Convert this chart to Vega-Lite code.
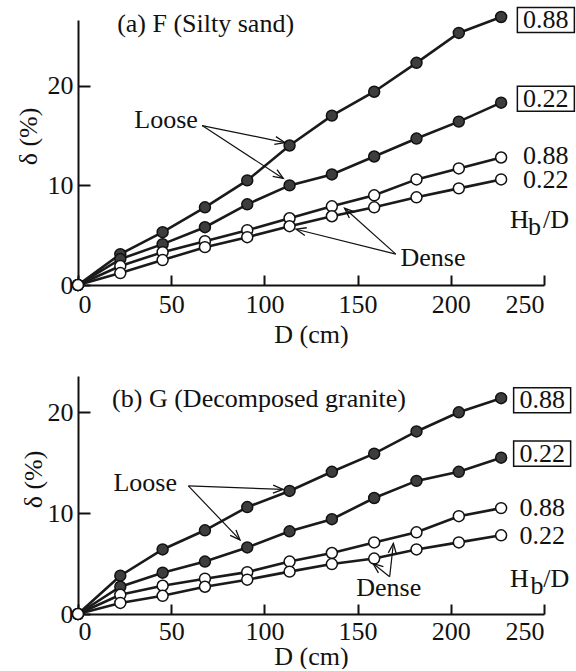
{
  "$schema": "https://vega.github.io/schema/vega-lite/v6.json",
  "padding": {"left": 15, "top": 4, "right": 0, "bottom": 0},
  "config": {
    "font": "Liberation Serif",
    "view": {"stroke": null},
    "axis": {"grid": false, "domainColor": "#111", "domainWidth": 2, "tickColor": "#111", "tickWidth": 2, "labelFont": "Liberation Serif", "labelFontSize": 26, "labelColor": "#111", "titleFont": "Liberation Serif", "titleFontSize": 26, "titleFontWeight": "normal", "titleColor": "#111"},
    "axisX": {"tickSize": -10, "labelPadding": 16, "titlePadding": 4},
    "axisY": {"tickSize": -12, "labelPadding": 17, "titlePadding": 6},
    "text": {"font": "Liberation Serif", "fontSize": 26, "color": "#111"}
  },
  "datasets": {
    "curves": [
      {"p":"a","s":"Loose 0.88","st":"Loose","D":0,"v":0},{"p":"a","s":"Loose 0.88","st":"Loose","D":22.7,"v":3.1},{"p":"a","s":"Loose 0.88","st":"Loose","D":45.4,"v":5.3},{"p":"a","s":"Loose 0.88","st":"Loose","D":68.1,"v":7.8},{"p":"a","s":"Loose 0.88","st":"Loose","D":90.8,"v":10.5},{"p":"a","s":"Loose 0.88","st":"Loose","D":113.5,"v":14.0},{"p":"a","s":"Loose 0.88","st":"Loose","D":136.2,"v":17.0},{"p":"a","s":"Loose 0.88","st":"Loose","D":158.9,"v":19.4},{"p":"a","s":"Loose 0.88","st":"Loose","D":181.6,"v":22.3},{"p":"a","s":"Loose 0.88","st":"Loose","D":204.3,"v":25.3},{"p":"a","s":"Loose 0.88","st":"Loose","D":227,"v":26.9},
      {"p":"a","s":"Loose 0.22","st":"Loose","D":0,"v":0},{"p":"a","s":"Loose 0.22","st":"Loose","D":22.7,"v":2.6},{"p":"a","s":"Loose 0.22","st":"Loose","D":45.4,"v":4.1},{"p":"a","s":"Loose 0.22","st":"Loose","D":68.1,"v":5.8},{"p":"a","s":"Loose 0.22","st":"Loose","D":90.8,"v":8.1},{"p":"a","s":"Loose 0.22","st":"Loose","D":113.5,"v":10.0},{"p":"a","s":"Loose 0.22","st":"Loose","D":136.2,"v":11.1},{"p":"a","s":"Loose 0.22","st":"Loose","D":158.9,"v":12.9},{"p":"a","s":"Loose 0.22","st":"Loose","D":181.6,"v":14.7},{"p":"a","s":"Loose 0.22","st":"Loose","D":204.3,"v":16.4},{"p":"a","s":"Loose 0.22","st":"Loose","D":227,"v":18.3},
      {"p":"a","s":"Dense 0.88","st":"Dense","D":0,"v":0},{"p":"a","s":"Dense 0.88","st":"Dense","D":22.7,"v":1.9},{"p":"a","s":"Dense 0.88","st":"Dense","D":45.4,"v":3.3},{"p":"a","s":"Dense 0.88","st":"Dense","D":68.1,"v":4.4},{"p":"a","s":"Dense 0.88","st":"Dense","D":90.8,"v":5.5},{"p":"a","s":"Dense 0.88","st":"Dense","D":113.5,"v":6.7},{"p":"a","s":"Dense 0.88","st":"Dense","D":136.2,"v":7.9},{"p":"a","s":"Dense 0.88","st":"Dense","D":158.9,"v":9.0},{"p":"a","s":"Dense 0.88","st":"Dense","D":181.6,"v":10.6},{"p":"a","s":"Dense 0.88","st":"Dense","D":204.3,"v":11.7},{"p":"a","s":"Dense 0.88","st":"Dense","D":227,"v":12.8},
      {"p":"a","s":"Dense 0.22","st":"Dense","D":0,"v":0},{"p":"a","s":"Dense 0.22","st":"Dense","D":22.7,"v":1.2},{"p":"a","s":"Dense 0.22","st":"Dense","D":45.4,"v":2.5},{"p":"a","s":"Dense 0.22","st":"Dense","D":68.1,"v":3.8},{"p":"a","s":"Dense 0.22","st":"Dense","D":90.8,"v":4.8},{"p":"a","s":"Dense 0.22","st":"Dense","D":113.5,"v":5.9},{"p":"a","s":"Dense 0.22","st":"Dense","D":136.2,"v":6.9},{"p":"a","s":"Dense 0.22","st":"Dense","D":158.9,"v":7.8},{"p":"a","s":"Dense 0.22","st":"Dense","D":181.6,"v":8.8},{"p":"a","s":"Dense 0.22","st":"Dense","D":204.3,"v":9.7},{"p":"a","s":"Dense 0.22","st":"Dense","D":227,"v":10.6},
      {"p":"b","s":"Loose 0.88","st":"Loose","D":0,"v":0},{"p":"b","s":"Loose 0.88","st":"Loose","D":22.7,"v":3.8},{"p":"b","s":"Loose 0.88","st":"Loose","D":45.4,"v":6.4},{"p":"b","s":"Loose 0.88","st":"Loose","D":68.1,"v":8.3},{"p":"b","s":"Loose 0.88","st":"Loose","D":90.8,"v":10.6},{"p":"b","s":"Loose 0.88","st":"Loose","D":113.5,"v":12.2},{"p":"b","s":"Loose 0.88","st":"Loose","D":136.2,"v":14.1},{"p":"b","s":"Loose 0.88","st":"Loose","D":158.9,"v":15.9},{"p":"b","s":"Loose 0.88","st":"Loose","D":181.6,"v":18.1},{"p":"b","s":"Loose 0.88","st":"Loose","D":204.3,"v":20.0},{"p":"b","s":"Loose 0.88","st":"Loose","D":227,"v":21.4},
      {"p":"b","s":"Loose 0.22","st":"Loose","D":0,"v":0},{"p":"b","s":"Loose 0.22","st":"Loose","D":22.7,"v":2.7},{"p":"b","s":"Loose 0.22","st":"Loose","D":45.4,"v":4.1},{"p":"b","s":"Loose 0.22","st":"Loose","D":68.1,"v":5.2},{"p":"b","s":"Loose 0.22","st":"Loose","D":90.8,"v":6.6},{"p":"b","s":"Loose 0.22","st":"Loose","D":113.5,"v":8.2},{"p":"b","s":"Loose 0.22","st":"Loose","D":136.2,"v":9.4},{"p":"b","s":"Loose 0.22","st":"Loose","D":158.9,"v":11.5},{"p":"b","s":"Loose 0.22","st":"Loose","D":181.6,"v":13.2},{"p":"b","s":"Loose 0.22","st":"Loose","D":204.3,"v":14.1},{"p":"b","s":"Loose 0.22","st":"Loose","D":227,"v":15.5},
      {"p":"b","s":"Dense 0.88","st":"Dense","D":0,"v":0},{"p":"b","s":"Dense 0.88","st":"Dense","D":22.7,"v":1.9},{"p":"b","s":"Dense 0.88","st":"Dense","D":45.4,"v":2.8},{"p":"b","s":"Dense 0.88","st":"Dense","D":68.1,"v":3.5},{"p":"b","s":"Dense 0.88","st":"Dense","D":90.8,"v":4.15},{"p":"b","s":"Dense 0.88","st":"Dense","D":113.5,"v":5.2},{"p":"b","s":"Dense 0.88","st":"Dense","D":136.2,"v":6.05},{"p":"b","s":"Dense 0.88","st":"Dense","D":158.9,"v":7.1},{"p":"b","s":"Dense 0.88","st":"Dense","D":181.6,"v":8.1},{"p":"b","s":"Dense 0.88","st":"Dense","D":204.3,"v":9.7},{"p":"b","s":"Dense 0.88","st":"Dense","D":227,"v":10.5},
      {"p":"b","s":"Dense 0.22","st":"Dense","D":0,"v":0},{"p":"b","s":"Dense 0.22","st":"Dense","D":22.7,"v":1.1},{"p":"b","s":"Dense 0.22","st":"Dense","D":45.4,"v":1.8},{"p":"b","s":"Dense 0.22","st":"Dense","D":68.1,"v":2.7},{"p":"b","s":"Dense 0.22","st":"Dense","D":90.8,"v":3.4},{"p":"b","s":"Dense 0.22","st":"Dense","D":113.5,"v":4.2},{"p":"b","s":"Dense 0.22","st":"Dense","D":136.2,"v":4.95},{"p":"b","s":"Dense 0.22","st":"Dense","D":158.9,"v":5.5},{"p":"b","s":"Dense 0.22","st":"Dense","D":181.6,"v":6.4},{"p":"b","s":"Dense 0.22","st":"Dense","D":204.3,"v":7.1},{"p":"b","s":"Dense 0.22","st":"Dense","D":227,"v":7.8}
    ],
    "notes": [
      {"p":"a","t":"(a) F (Silty sand)","D":21,"v":25.4},
      {"p":"a","t":"Loose","D":30.2,"v":15.8},
      {"p":"a","t":"Dense","D":173,"v":1.9},
      {"p":"a","t":"H","D":231.8,"v":5.72},
      {"p":"a","t":"b","D":241.4,"v":5.0},
      {"p":"a","t":"/D","D":249.5,"v":5.72},
      {"p":"b","t":"(b) G (Decomposed granite)","D":18.3,"v":20.5},
      {"p":"b","t":"Loose","D":19,"v":12.2},
      {"p":"b","t":"Dense","D":149.3,"v":1.8},
      {"p":"b","t":"H","D":231.7,"v":2.65},
      {"p":"b","t":"b","D":242.7,"v":1.95},
      {"p":"b","t":"/D","D":249.6,"v":2.65}
    ],
    "labels": [
      {"p":"a","t":"0.88","box":true,"D":251,"v":26.6},
      {"p":"a","t":"0.22","box":true,"D":251,"v":18.7},
      {"p":"a","t":"0.88","box":false,"D":251,"v":12.95},
      {"p":"a","t":"0.22","box":false,"D":251,"v":10.5},
      {"p":"b","t":"0.88","box":true,"D":249,"v":21.2},
      {"p":"b","t":"0.22","box":true,"D":249,"v":15.9},
      {"p":"b","t":"0.88","box":false,"D":249,"v":10.5},
      {"p":"b","t":"0.22","box":false,"D":249,"v":7.7}
    ],
    "arrows": [
      {"p":"a","D":66.6,"v":16.0,"D2":111,"v2":14.3},
      {"p":"a","D":66.6,"v":16.0,"D2":110.1,"v2":10.7},
      {"p":"a","D":170.5,"v":3.1,"D2":117,"v2":5.6},
      {"p":"a","D":170.5,"v":3.1,"D2":143,"v2":7.7},
      {"p":"b","D":59.2,"v":12.7,"D2":110,"v2":12.35},
      {"p":"b","D":59.2,"v":12.7,"D2":86.9,"v2":7.35},
      {"p":"b","D":167.2,"v":3.7,"D2":169.2,"v2":7.0},
      {"p":"b","D":167.2,"v":3.7,"D2":158.3,"v2":5.0}
    ]
  },
  "bounds": "full",
  "align": "none",
  "spacing": 29,
  "resolve": {"scale": {"x": "independent", "y": "independent", "fill": "independent"}},
  "vconcat": [
    {
      "width": 466, "height": 265,
      "layer": [
        {"data": {"name": "curves"}, "transform": [{"filter": "datum.p==='a'"}],
         "mark": {"type": "line", "color": "#1a1a1a", "strokeWidth": 2.6},
         "encoding": {
           "x": {"field": "D", "type": "quantitative", "scale": {"domain": [0, 250]}, "axis": {"title": "D (cm)", "values": [0, 50, 100, 150, 200, 250]}},
           "y": {"field": "v", "type": "quantitative", "scale": {"domain": [0, 26.6]}, "axis": {"title": "δ (%)", "values": [0, 10, 20], "titleY": 116}},
           "detail": {"field": "s"}
         }},
        {"data": {"name": "curves"}, "transform": [{"filter": "datum.p==='a'"}],
         "mark": {"type": "circle", "size": 120, "stroke": "#111", "strokeWidth": 1.5, "opacity": 1},
         "encoding": {
           "x": {"field": "D", "type": "quantitative", "scale": {"domain": [0, 250]}},
           "y": {"field": "v", "type": "quantitative", "scale": {"domain": [0, 26.6]}},
           "fill": {"field": "st", "type": "nominal", "scale": {"domain": ["Loose", "Dense"], "range": ["#3d3d3d", "#ffffff"]}, "legend": null}
         }},
        {"data": {"name": "notes"}, "transform": [{"filter": "datum.p==='a'"}],
         "mark": {"type": "text", "align": "left", "baseline": "alphabetic"},
         "encoding": {
           "x": {"field": "D", "type": "quantitative", "scale": {"domain": [0, 250]}},
           "y": {"field": "v", "type": "quantitative", "scale": {"domain": [0, 26.6]}},
           "text": {"field": "t"}
         }},
        {"data": {"name": "labels"}, "transform": [{"filter": "datum.p==='a'"}],
         "mark": {"type": "text", "align": "center", "baseline": "middle"},
         "encoding": {
           "x": {"field": "D", "type": "quantitative", "scale": {"domain": [0, 250]}},
           "y": {"field": "v", "type": "quantitative", "scale": {"domain": [0, 26.6]}},
           "text": {"field": "t"}
         }},
        {"data": {"name": "labels"}, "transform": [{"filter": "datum.p==='a' && datum.box"}],
         "mark": {"type": "point", "shape": "M-1,-0.44H1V0.44H-1Z", "size": 3249, "filled": false, "color": "#111", "strokeWidth": 1.5, "opacity": 1},
         "encoding": {
           "x": {"field": "D", "type": "quantitative", "scale": {"domain": [0, 250]}},
           "y": {"field": "v", "type": "quantitative", "scale": {"domain": [0, 26.6]}}
         }},
        {"data": {"name": "arrows"}, "transform": [{"filter": "datum.p==='a'"}],
         "mark": {"type": "rule", "color": "#111", "strokeWidth": 1.2},
         "encoding": {
           "x": {"field": "D", "type": "quantitative", "scale": {"domain": [0, 250]}},
           "y": {"field": "v", "type": "quantitative", "scale": {"domain": [0, 26.6]}},
           "x2": {"field": "D2"},
           "y2": {"field": "v2"}
         }},
        {"data": {"name": "arrows"}, "transform": [{"filter": "datum.p==='a'"}, {"calculate": "atan2(-(datum.v2-datum.v)*9.962, (datum.D2-datum.D)*1.864)*180/PI", "as": "ang"}],
         "mark": {"type": "point", "shape": "M-1,-0.4L0,0L-1,0.4", "size": 400, "filled": false, "color": "#111", "strokeWidth": 1.3, "opacity": 1},
         "encoding": {
           "x": {"field": "D2", "type": "quantitative", "scale": {"domain": [0, 250]}},
           "y": {"field": "v2", "type": "quantitative", "scale": {"domain": [0, 26.6]}},
           "angle": {"field": "ang", "type": "quantitative", "scale": null}
         }}
      ]
    },
    {
      "width": 466, "height": 238,
      "layer": [
        {"data": {"name": "curves"}, "transform": [{"filter": "datum.p==='b'"}],
         "mark": {"type": "line", "color": "#1a1a1a", "strokeWidth": 2.6},
         "encoding": {
           "x": {"field": "D", "type": "quantitative", "scale": {"domain": [0, 250]}, "axis": {"title": "D (cm)", "values": [0, 50, 100, 150, 200, 250], "labelPadding": 14, "titlePadding": -1}},
           "y": {"field": "v", "type": "quantitative", "scale": {"domain": [0, 23.6]}, "axis": {"title": "δ (%)", "values": [0, 10, 20], "titleY": 103, "titlePadding": 1}},
           "detail": {"field": "s"}
         }},
        {"data": {"name": "curves"}, "transform": [{"filter": "datum.p==='b'"}],
         "mark": {"type": "circle", "size": 120, "stroke": "#111", "strokeWidth": 1.5, "opacity": 1},
         "encoding": {
           "x": {"field": "D", "type": "quantitative", "scale": {"domain": [0, 250]}},
           "y": {"field": "v", "type": "quantitative", "scale": {"domain": [0, 23.6]}},
           "fill": {"field": "st", "type": "nominal", "scale": {"domain": ["Loose", "Dense"], "range": ["#3d3d3d", "#ffffff"]}, "legend": null}
         }},
        {"data": {"name": "notes"}, "transform": [{"filter": "datum.p==='b'"}],
         "mark": {"type": "text", "align": "left", "baseline": "alphabetic"},
         "encoding": {
           "x": {"field": "D", "type": "quantitative", "scale": {"domain": [0, 250]}},
           "y": {"field": "v", "type": "quantitative", "scale": {"domain": [0, 23.6]}},
           "text": {"field": "t"}
         }},
        {"data": {"name": "labels"}, "transform": [{"filter": "datum.p==='b'"}],
         "mark": {"type": "text", "align": "center", "baseline": "middle"},
         "encoding": {
           "x": {"field": "D", "type": "quantitative", "scale": {"domain": [0, 250]}},
           "y": {"field": "v", "type": "quantitative", "scale": {"domain": [0, 23.6]}},
           "text": {"field": "t"}
         }},
        {"data": {"name": "labels"}, "transform": [{"filter": "datum.p==='b' && datum.box"}],
         "mark": {"type": "point", "shape": "M-1,-0.44H1V0.44H-1Z", "size": 3249, "filled": false, "color": "#111", "strokeWidth": 1.5, "opacity": 1},
         "encoding": {
           "x": {"field": "D", "type": "quantitative", "scale": {"domain": [0, 250]}},
           "y": {"field": "v", "type": "quantitative", "scale": {"domain": [0, 23.6]}}
         }},
        {"data": {"name": "arrows"}, "transform": [{"filter": "datum.p==='b'"}],
         "mark": {"type": "rule", "color": "#111", "strokeWidth": 1.2},
         "encoding": {
           "x": {"field": "D", "type": "quantitative", "scale": {"domain": [0, 250]}},
           "y": {"field": "v", "type": "quantitative", "scale": {"domain": [0, 23.6]}},
           "x2": {"field": "D2"},
           "y2": {"field": "v2"}
         }},
        {"data": {"name": "arrows"}, "transform": [{"filter": "datum.p==='b'"}, {"calculate": "atan2(-(datum.v2-datum.v)*10.08, (datum.D2-datum.D)*1.864)*180/PI", "as": "ang"}],
         "mark": {"type": "point", "shape": "M-1,-0.4L0,0L-1,0.4", "size": 400, "filled": false, "color": "#111", "strokeWidth": 1.3, "opacity": 1},
         "encoding": {
           "x": {"field": "D2", "type": "quantitative", "scale": {"domain": [0, 250]}},
           "y": {"field": "v2", "type": "quantitative", "scale": {"domain": [0, 23.6]}},
           "angle": {"field": "ang", "type": "quantitative", "scale": null}
         }}
      ]
    }
  ]
}
